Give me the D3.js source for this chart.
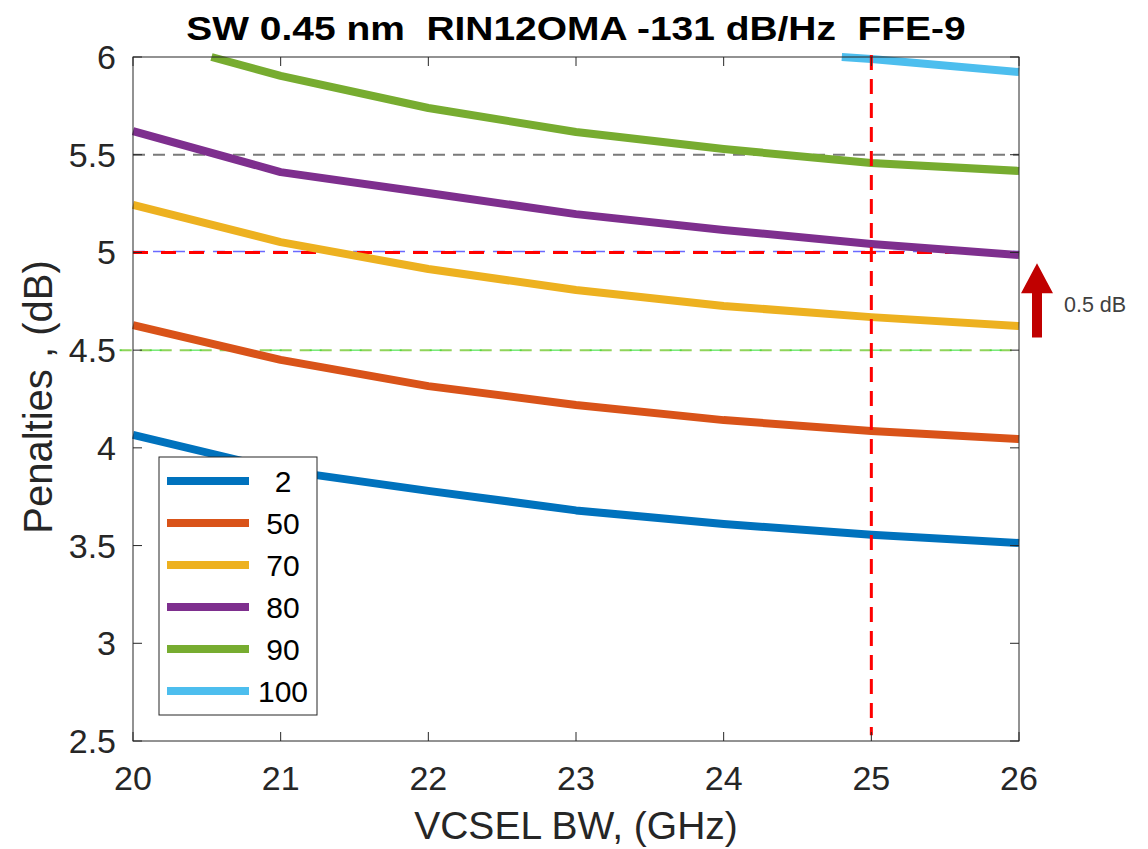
<!DOCTYPE html>
<html>
<head>
<meta charset="utf-8">
<script src="https://d3js.org/d3.v7.min.js"></script>
<style>
  body { margin: 0; background: #fff; }
  text { font-family: "Liberation Sans Narrow", "Arial Narrow", "Liberation Sans", Arial, sans-serif; fill: #262626; }
  .wide { font-family: "Liberation Sans", Arial, Helvetica, sans-serif; }
</style>
</head>
<body>
<div id="chart"></div>
<script>
    // VCSEL bandwidth (GHz)
    const bw = [20, 21, 22, 23, 24, 25, 26];

    // one series per legend entry, values in dB (null = off the top of the plot)
    const seriesNames = ["2", "50", "70", "80", "90", "100"];
    const pen2   = [4.066, 3.886, 3.780, 3.680, 3.610, 3.555, 3.513];
    const pen50  = [4.628, 4.450, 4.316, 4.219, 4.142, 4.086, 4.045];
    const pen70  = [5.243, 5.053, 4.915, 4.808, 4.726, 4.669, 4.623];
    const pen80  = [5.621, 5.411, 5.304, 5.196, 5.115, 5.043, 4.987];
    const pen90  = [6.110, 5.903, 5.739, 5.616, 5.529, 5.458, 5.417];
    const pen100 = [null, null, null, null, 6.040, 5.990, 5.923];
    const colors = ["#0072BD", "#D95319", "#EDB120", "#7E2F8E", "#77AC30", "#4DBEEE"];

    const xTicks = [20, 21, 22, 23, 24, 25, 26];
    const yTicks = [2.5, 3, 3.5, 4, 4.5, 5, 5.5, 6];

    const allSeries = [pen2, pen50, pen70, pen80, pen90, pen100];
    const yMax = 6;

    const width = 1148, height = 849;
    const margin = { top: 57, right: 129, bottom: 108, left: 133 };

    const svg = d3.select("#chart").append("svg")
        .attr("width", width)
        .attr("height", height);

    const xScale = d3.scaleLinear().domain([20, 26]).range([margin.left, width - margin.right]);
    const yScale = d3.scaleLinear().domain([2.5, yMax]).range([height - margin.bottom, margin.top]);

    // cut a series at the top of the axes the way matlab does (data clipping, not stroke clipping)
    function clipTop(vals) {
        const pts = [];
        for (let i = 0; i < vals.length; i++) {
            const v = vals[i];
            if (v == null) continue;
            const prev = i > 0 ? vals[i - 1] : null;
            if (prev != null && (prev > yMax) !== (v > yMax)) {
                const f = (yMax - prev) / (v - prev);
                pts.push([bw[i - 1] + f * (bw[i] - bw[i - 1]), yMax]);
            }
            if (v <= yMax) pts.push([bw[i], v]);
        }
        return pts;
    }

    // reference lines
    const refs = svg.append("g");
    refs.append("line")
        .attr("x1", xScale(20)).attr("x2", xScale(26))
        .attr("y1", yScale(5.5)).attr("y2", yScale(5.5))
        .attr("stroke", "#7a7a7a").attr("stroke-width", 2)
        .attr("stroke-dasharray", "12,8");
    refs.append("line")
        .attr("x1", xScale(20)).attr("x2", xScale(26))
        .attr("y1", yScale(5) - 1).attr("y2", yScale(5) - 1)
        .attr("stroke", "#6a6aff").attr("stroke-width", 1.5)
        .attr("stroke-dasharray", "12,8");
    refs.append("line")
        .attr("x1", xScale(19.91)).attr("x2", xScale(26))
        .attr("y1", yScale(4.5)).attr("y2", yScale(4.5))
        .attr("stroke", "#8fd45a").attr("stroke-width", 2)
        .attr("stroke-dasharray", "12,8");
    refs.append("line")
        .attr("x1", xScale(19.91)).attr("x2", xScale(26))
        .attr("y1", yScale(4.5)).attr("y2", yScale(4.5))
        .attr("stroke", "#33dd33").attr("stroke-width", 1)
        .attr("stroke-dasharray", "12,28")
        .attr("stroke-dashoffset", 10);

    // data lines
    const line = d3.line()
        .x(d => xScale(d[0]))
        .y(d => yScale(d[1]));

    svg.append("g")
        .selectAll("path")
        .data(allSeries)
        .join("path")
        .attr("d", d => line(clipTop(d)))
        .attr("fill", "none")
        .attr("stroke", (d, i) => colors[i])
        .attr("stroke-width", 8)
        .attr("stroke-linejoin", "round");

    // red dashed limits
    refs.append("line")
        .attr("x1", xScale(20)).attr("x2", xScale(26))
        .attr("y1", yScale(5)).attr("y2", yScale(5))
        .attr("stroke", "#ff0000").attr("stroke-width", 3)
        .attr("stroke-dasharray", "15,13");
    svg.append("line")
        .attr("x1", xScale(25)).attr("x2", xScale(25))
        .attr("y1", yScale(6.01)).attr("y2", yScale(2.53))
        .attr("stroke", "#ff0000").attr("stroke-width", 3)
        .attr("stroke-dasharray", "15,9");

    // axes box, ticks inward
    const x0 = xScale(20), x1 = xScale(26), y0 = yScale(2.5), y1 = yScale(6);
    const axisG = svg.append("g");
    axisG.append("rect")
        .attr("x", x0).attr("y", y1)
        .attr("width", x1 - x0).attr("height", y0 - y1)
        .attr("fill", "none").attr("stroke", "#262626").attr("stroke-width", 1);

    xTicks.forEach(t => {
        axisG.append("line").attr("x1", xScale(t)).attr("x2", xScale(t))
            .attr("y1", y0).attr("y2", y0 - 9).attr("stroke", "#262626");
        axisG.append("line").attr("x1", xScale(t)).attr("x2", xScale(t))
            .attr("y1", y1).attr("y2", y1 + 9).attr("stroke", "#262626");
        axisG.append("text")
            .attr("x", xScale(t)).attr("y", y0 + 49)
            .attr("text-anchor", "middle")
            .style("font-size", "34px")
            .text(t);
    });
    yTicks.forEach(t => {
        axisG.append("line").attr("x1", x0).attr("x2", x0 + 9)
            .attr("y1", yScale(t)).attr("y2", yScale(t)).attr("stroke", "#262626");
        axisG.append("line").attr("x1", x1).attr("x2", x1 - 9)
            .attr("y1", yScale(t)).attr("y2", yScale(t)).attr("stroke", "#262626");
        axisG.append("text")
            .attr("x", x0 - 17).attr("y", yScale(t) + 12)
            .attr("text-anchor", "end")
            .style("font-size", "34px")
            .text(t);
    });

    // labels
    svg.append("text")
        .attr("x", (x0 + x1) / 2).attr("y", 839)
        .attr("text-anchor", "middle")
        .style("font-size", "39px")
        .text("VCSEL BW, (GHz)");
    svg.append("text")
        .attr("class", "wide")
        .attr("transform", `translate(52,${(y0 + y1) / 2 - 2}) rotate(-90)`)
        .attr("text-anchor", "middle")
        .style("font-size", "40px")
        .text("Penalties , (dB)");
    // title is drawn a bit wider than the font, like the original picture
    svg.append("text")
        .attr("class", "wide")
        .attr("transform", `translate(${(x0 + x1) / 2},40) scale(1.18,1)`)
        .attr("text-anchor", "middle")
        .style("font-size", "33px")
        .style("font-weight", "bold")
        .style("fill", "#000")
        .attr("xml:space", "preserve")
        .text("SW 0.45 nm  RIN12OMA -131 dB/Hz  FFE-9");

    // legend
    const legend = svg.append("g").attr("transform", "translate(159,457)");
    legend.append("rect")
        .attr("width", 158).attr("height", 258)
        .attr("fill", "#fff").attr("stroke", "#262626").attr("stroke-width", 1);
    seriesNames.forEach((name, i) => {
        const ly = 24 + i * 42;
        legend.append("line")
            .attr("x1", 8).attr("x2", 90)
            .attr("y1", ly).attr("y2", ly)
            .attr("stroke", colors[i]).attr("stroke-width", 8);
        legend.append("text")
            .attr("x", 124).attr("y", ly + 11)
            .attr("text-anchor", "middle")
            .style("font-size", "30px")
            .style("fill", "#000")
            .text(name);
    });

    // 0.5 dB arrow
    const ax = xScale(26) + 18;
    const tipY = yScale(4.945), baseY = yScale(4.565);
    const headY = tipY + 30;
    svg.append("path")
        .attr("d", `M${ax - 5},${baseY} L${ax - 5},${headY} L${ax - 16},${headY} L${ax},${tipY} L${ax + 16},${headY} L${ax + 5},${headY} L${ax + 5},${baseY} Z`)
        .attr("fill", "#c00000");
    svg.append("text")
        .attr("class", "wide")
        .attr("x", ax + 27).attr("y", yScale(4.73) + 7)
        .style("font-size", "21.5px")
        .style("fill", "#404040")
        .text("0.5 dB");
</script>
</body>
</html>
